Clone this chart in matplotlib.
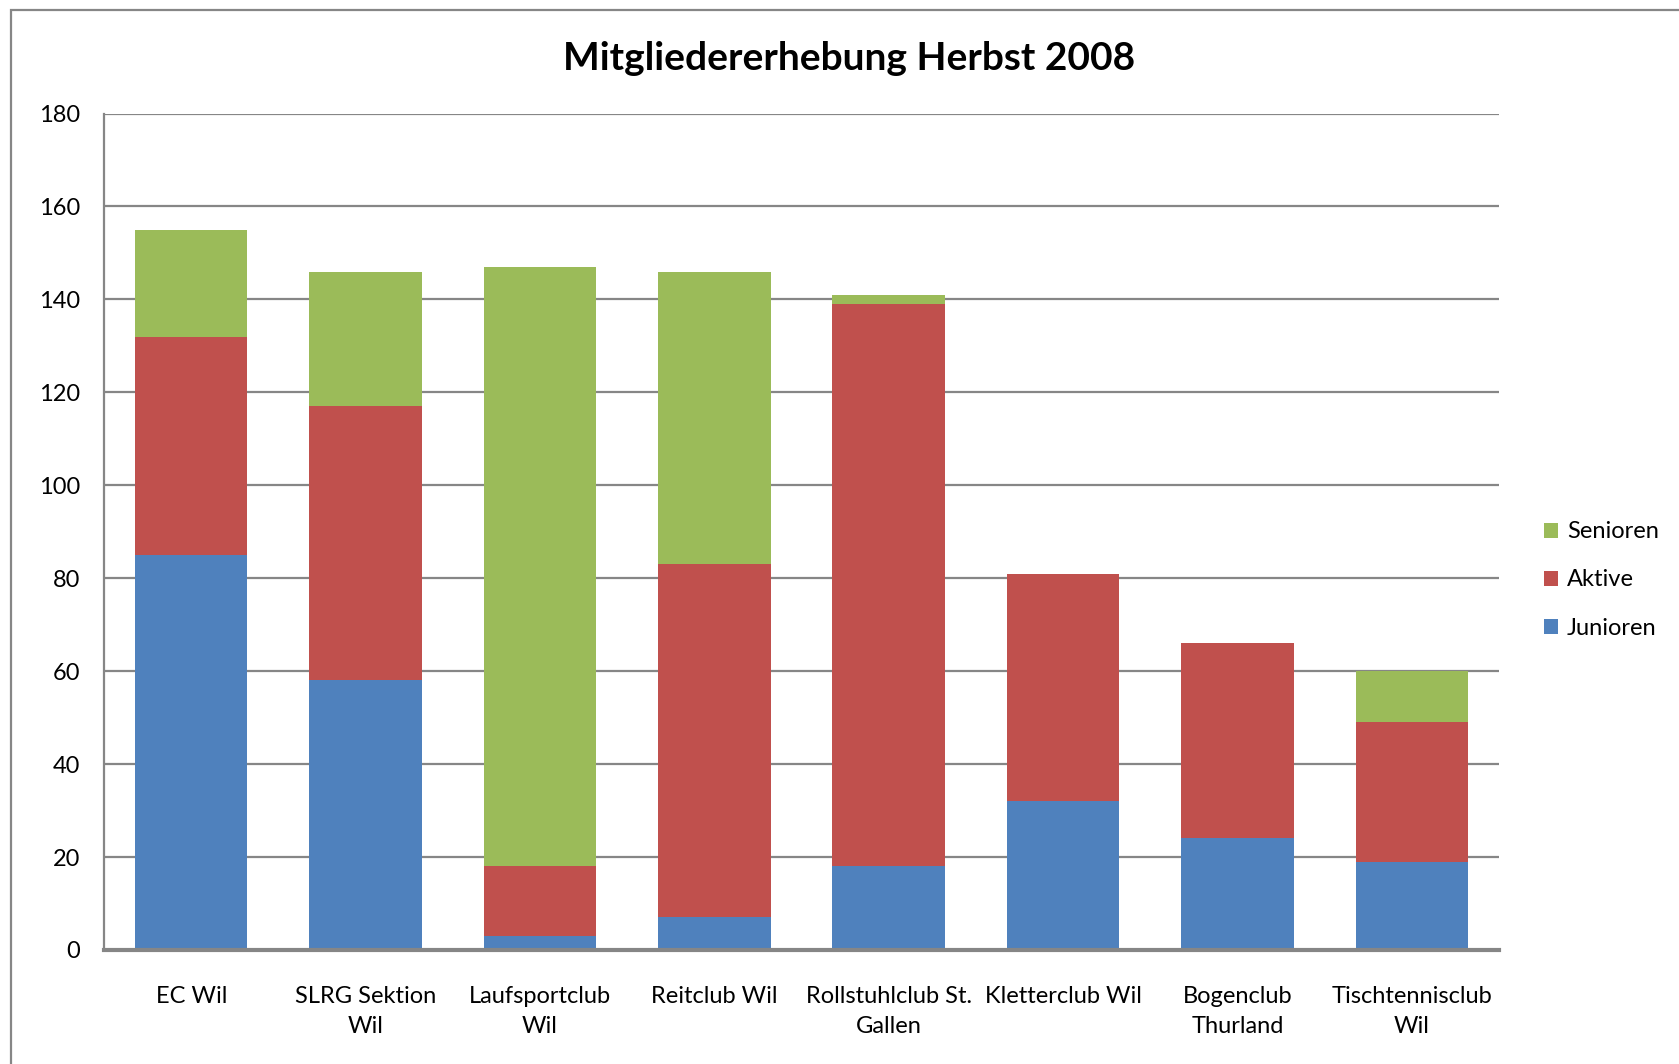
import matplotlib.pyplot as plt
from matplotlib.patches import Rectangle
import numpy as np

plt.rcParams['font.family'] = ['Lato', 'DejaVu Sans']

clubs = ['EC Wil', 'SLRG Sektion\nWil', 'Laufsportclub\nWil', 'Reitclub Wil',
         'Rollstuhlclub St.\nGallen', 'Kletterclub Wil', 'Bogenclub\nThurland',
         'Tischtennisclub\nWil']
junioren = [85, 58, 3, 7, 18, 32, 24, 19]
aktive = [47, 59, 15, 76, 121, 49, 42, 30]
senioren = [23, 29, 129, 63, 2, 0, 0, 11]

c_jun = '#4F81BD'
c_akt = '#C0504D'
c_sen = '#9BBB59'
grey = '#868686'

fig = plt.figure(figsize=(16.79, 10.64), dpi=100)
ax = fig.add_axes([104 / 1679, 1 - 950 / 1064, 1395 / 1679, (950 - 113.5) / 1064])

x = np.arange(len(clubs))
w = 0.645
jun = np.array(junioren)
akt = np.array(aktive)
sen = np.array(senioren)
b1 = ax.bar(x, jun, w, color=c_jun, zorder=3)
b2 = ax.bar(x, akt, w, bottom=jun, color=c_akt, zorder=3)
b3 = ax.bar(x, sen, w, bottom=jun + akt, color=c_sen, zorder=3)

ax.set_xlim(-0.5, len(clubs) - 0.5)
ax.set_ylim(0, 180)
ax.set_yticks(range(0, 181, 20))
ax.yaxis.grid(True, color=grey, lw=1.6, zorder=1)
ax.set_axisbelow(True)
for s in ['top', 'right']:
    ax.spines[s].set_visible(False)
ax.spines['left'].set_color(grey)
ax.spines['left'].set_linewidth(1.6)
ax.spines['bottom'].set_color(grey)
ax.spines['bottom'].set_linewidth(3)
ax.spines['bottom'].set_zorder(4)

ax.set_xticks(x)
ax.set_xticklabels(clubs, fontsize=17, linespacing=1.55)
ax.tick_params(axis='x', length=0, pad=26)
ax.tick_params(axis='y', length=0, pad=17, labelsize=17)

fig.text(849 / 1679, 1 - 58 / 1064, 'Mitgliedererhebung Herbst 2008',
         ha='center', va='center', fontsize=28, fontweight='bold')

leg = fig.legend([b3, b2, b1], ['Senioren', 'Aktive', 'Junioren'],
                 loc='center left', bbox_to_anchor=(1527 / 1679, 1 - 580 / 1064),
                 frameon=False, fontsize=17, handlelength=0.6, handleheight=0.6,
                 handletextpad=0.4, labelspacing=1.15, borderpad=0.2)

fig.patches.append(Rectangle((10.7 / 1679, -0.1), 1.2, 1.1 - 9.6 / 1064,
                             transform=fig.transFigure, fill=False,
                             edgecolor=grey, lw=1.6))

fig.savefig('out.png', dpi=100)
